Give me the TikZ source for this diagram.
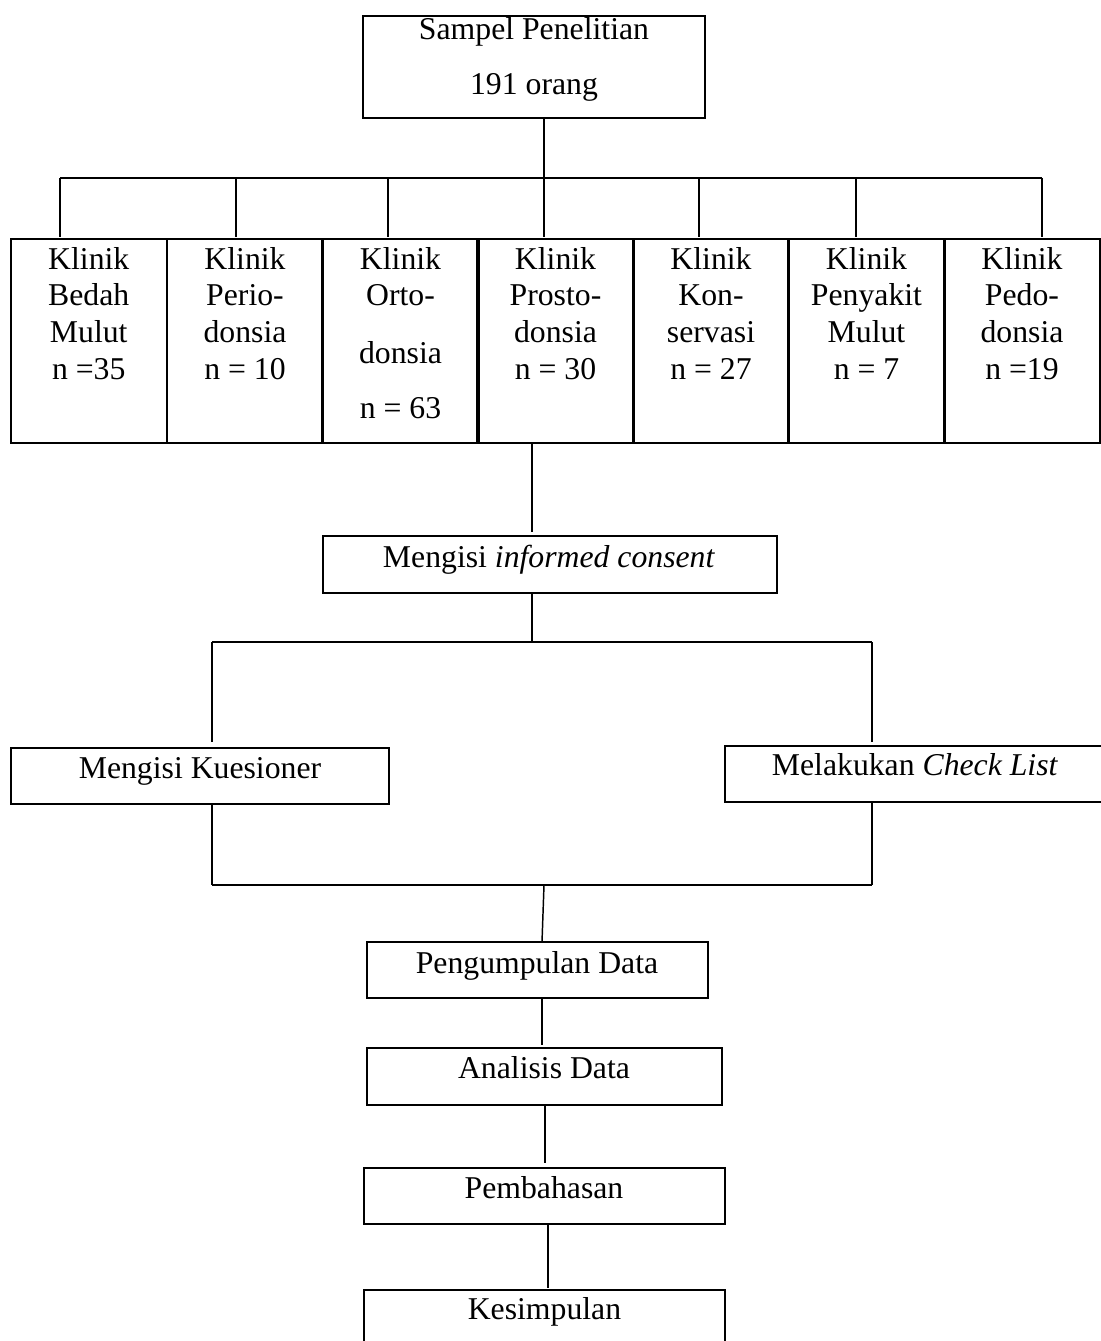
\documentclass[tikz,border=0pt]{standalone}
\usepackage{fontspec}
\setmainfont{Liberation Serif}
\newcommand{\boxtext}[2][105pt]{\parbox[t]{#1}{\centering\fontsize{23.8pt}{27.5pt}\selectfont #2}}
\begin{document}
\begin{tikzpicture}[x=0.75pt,y=-0.75pt,
  box/.style={draw, line width=1.5pt, inner sep=0pt, outer sep=0pt},
  clin/.style={box, line width=1.7pt, minimum width=156*0.75pt, minimum height=204*0.75pt},
  lbl/.style={inner sep=0pt, outer sep=0pt, anchor=base, font=\fontsize{23.8pt}{27.5pt}\selectfont},
  wire/.style={line width=1.1pt}]
\useasboundingbox (0,0) rectangle (1100,1341);

% top box
\node[box, minimum width=342*0.75pt, minimum height=102*0.75pt] (top) at (534,67) {};
\node[lbl] (ttop) at (534,40) {\boxtext[220pt]{Sampel Penelitian\\[13.7pt]191 orang}};

% clinic boxes
\node[clin] (c1) at (88.75,341) {};
\node[clin] (c2) at (245,341) {};
\node[clin] (c3) at (400.5,341) {};
\node[clin] (c4) at (555.5,341) {};
\node[clin] (c5) at (711,341) {};
\node[clin] (c6) at (866.5,341) {};
\node[clin] (c7) at (1022,341) {};
\node[lbl] (t1) at (88.75,269) {\boxtext{Klinik\\Bedah\\Mulut\\n =35}};
\node[lbl] (t2) at (245,269) {\boxtext{Klinik\\Perio-\\donsia\\n = 10}};
\node[lbl] (t3) at (400.5,269) {\boxtext{Klinik\\Orto-\\[15.5pt]donsia\\[14.3pt]n = 63}};
\node[lbl] (t4) at (555.5,269) {\boxtext{Klinik\\Prosto-\\donsia\\n = 30}};
\node[lbl] (t5) at (711,269) {\boxtext{Klinik\\Kon-\\servasi\\n = 27}};
\node[lbl] (t6) at (866.5,269) {\boxtext{Klinik\\Penyakit\\Mulut\\n = 7}};
\node[lbl] (t7) at (1022,269) {\boxtext{Klinik\\Pedo-\\donsia\\n =19}};

% middle boxes
\node[box, minimum width=454*0.75pt, minimum height=57*0.75pt] (cons) at (550,564.5) {};
\node[lbl] (tcons) at (549,567) {Mengisi \textit{informed consent}};
\node[box, minimum width=378.5*0.75pt, minimum height=56*0.75pt] (kues) at (199.75,776) {};
\node[lbl] (tkues) at (200,778) {Mengisi Kuesioner};
\node[box, minimum width=377*0.75pt, minimum height=56*0.75pt] (chk) at (913.5,774) {};
\node[lbl] (tchk) at (915,775) {Melakukan \textit{Check List}};

% lower boxes
\node[box, minimum width=341*0.75pt, minimum height=56*0.75pt] (data) at (537.5,970) {};
\node[lbl] (tdata) at (537,973) {Pengumpulan Data};
\node[box, minimum width=355*0.75pt, minimum height=57*0.75pt] (anal) at (544.5,1076.5) {};
\node[lbl] (tanal) at (544,1078) {Analisis Data};
\node[box, minimum width=361*0.75pt, minimum height=56*0.75pt] (bahas) at (544.5,1196) {};
\node[lbl] (tbahas) at (544,1198) {Pembahasan};
\node[box, minimum width=361*0.75pt, minimum height=56*0.75pt] (simp) at (544.5,1318) {};
\node[lbl] (tsimp) at (544.5,1319) {Kesimpulan};

% bus under top box
\coordinate (j0) at (544,178);
\coordinate (b1) at (60,178);
\coordinate (b2) at (236,178);
\coordinate (b3) at (388,178);
\coordinate (b5) at (699,178);
\coordinate (b6) at (856,178);
\coordinate (b7) at (1042,178);
\draw[wire] (top.south -| j0) -- (j0);
\draw[wire, line width=1.4pt] (b1) -- (b7);
\foreach \b in {b1,b2,b3,j0,b5,b6,b7}
  \draw[wire] (\b) -- ([yshift=1.5pt]\b |- c1.north);

% clinic to consent
\coordinate (k1) at (532,440);
\draw[wire] (c4.south -| k1) -- ([yshift=3pt]cons.north -| k1);

% consent split
\coordinate (j2) at (532,642);
\coordinate (l2) at (212,642);
\coordinate (r2) at (872,642);
\draw[wire] (cons.south -| j2) -- (j2);
\draw[wire, line width=1.4pt] (l2) -- (r2);
\draw[wire] (l2) -- ([yshift=4.5pt]kues.north -| l2);
\draw[wire] (r2) -- ([yshift=3pt]chk.north -| r2);

% merge
\coordinate (l3) at (212,885);
\coordinate (r3) at (872,885);
\coordinate (j3) at (544,885);
\draw[wire] (kues.south -| l3) -- (l3);
\draw[wire] (chk.south -| r3) -- (r3);
\draw[wire, line width=1.4pt] (l3) -- (r3);
\coordinate (d1) at (542,942);
\draw[wire] (j3) -- (data.north -| d1);

% chain
\coordinate (d2) at (542,0);
\coordinate (d3) at (545,0);
\coordinate (d4) at (548,0);
\draw[wire] (data.south -| d2) -- ([yshift=2pt]anal.north -| d2);
\draw[wire] (anal.south -| d3) -- ([yshift=3.5pt]bahas.north -| d3);
\draw[wire] (bahas.south -| d4) -- ([yshift=1.5pt]simp.north -| d4);
\end{tikzpicture}
\end{document}
